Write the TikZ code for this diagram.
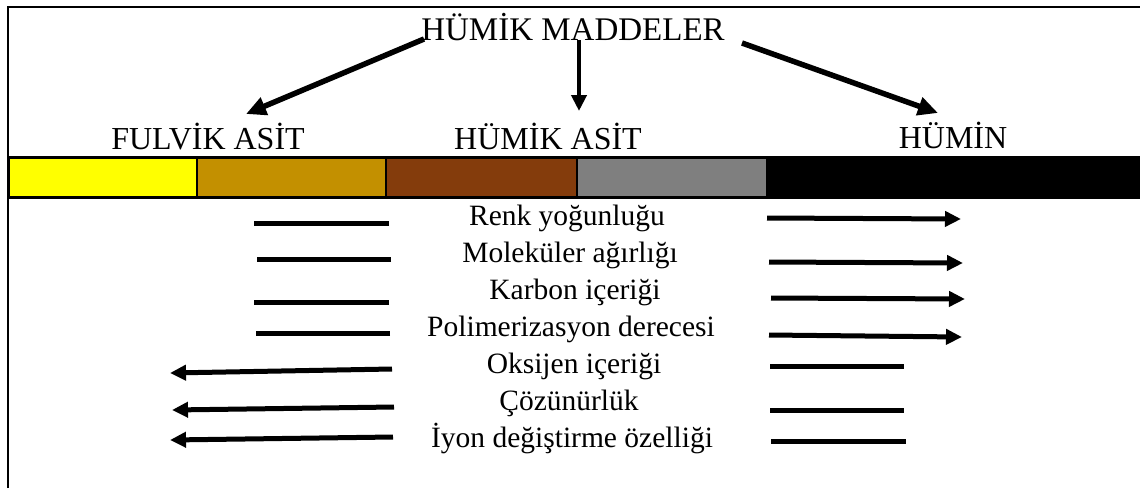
\documentclass[tikz,border=0pt]{standalone}
\usepackage{fontspec}
\setmainfont{Liberation Serif}
\usetikzlibrary{arrows.meta}
\definecolor{yellowbar}{HTML}{FFFF00}
\definecolor{goldbar}{HTML}{C39000}
\definecolor{brownbar}{HTML}{843C0C}
\definecolor{greybar}{HTML}{7F7F7F}
\tikzset{
  frameline/.style={line width=2pt,black},
  seg/.style={draw=black,line width=3pt},
  bigarrow/.style={line width=5.5pt,-{Triangle[length=20pt,width=18pt]}},
  midarrow/.style={line width=4.5pt,-{Triangle[length=16pt,width=15pt]}},
  rowarrow/.style={line width=5pt,-{Triangle[length=16pt,width=15pt]}},
  rowline/.style={line width=5pt},
  head/.style={font=\fontsize{32}{36}\selectfont,anchor=base,inner sep=0pt},
  rowlabel/.style={font=\fontsize{29.5}{32}\selectfont,anchor=base,inner sep=0pt}
}
\begin{document}
\begin{tikzpicture}[x=1pt,y=-1pt]
\useasboundingbox (0,0) rectangle (1140,488);
% frame
\draw[frameline] (8,488) -- (8,7) -- (1140,7);
% colour bar
\fill[yellowbar] (8,157) rectangle (197,197);
\fill[goldbar] (197,157) rectangle (386,197);
\fill[brownbar] (386,157) rectangle (577,197);
\fill[greybar] (577,157) rectangle (766,197);
\fill[black] (766,157) rectangle (1140,197);
\draw[seg] (8,157) rectangle (1142,197);
\draw[line width=2pt] (197,157) -- (197,197) (386,157) -- (386,197) (577,157) -- (577,197);
% headings
\node[head,font=\fontsize{33}{36}\selectfont] (title) at (573,40) {HÜMİK MADDELER};
\node[head] (fulvik) at (208,149) {FULVİK ASİT};
\node[head] (humik) at (548,149) {HÜMİK ASİT};
\node[head] (humin) at (953,148) {HÜMİN};
% top arrows
\coordinate (tl) at (424,39);
\coordinate (tlE) at (246,114);
\coordinate (tm) at (579,40);
\coordinate (tmE) at (579,111);
\coordinate (tr) at (742,43);
\coordinate (trE) at (938,113);
\draw[bigarrow] (tl) -- (tlE);
\draw[midarrow] (tm) -- (tmE);
\draw[bigarrow] (tr) -- (trE);
% row labels
\node[rowlabel] (r1) at (567,225) {Renk yoğunluğu};
\node[rowlabel] (r2) at (570,262) {Moleküler ağırlığı};
\node[rowlabel] (r3) at (575,299) {Karbon içeriği};
\node[rowlabel] (r4) at (571,336) {Polimerizasyon derecesi};
\node[rowlabel] (r5) at (574,373) {Oksijen içeriği};
\node[rowlabel] (r6) at (569,410) {Çözünürlük};
\node[rowlabel] (r7) at (572,447) {İyon değiştirme özelliği};
% left side
\coordinate (l1a) at (389,223); \coordinate (l1b) at (254,223);
\coordinate (l2a) at (391,259); \coordinate (l2b) at (257,259);
\coordinate (l3a) at (389,302); \coordinate (l3b) at (254,302);
\coordinate (l4a) at (390,333); \coordinate (l4b) at (256,333);
\coordinate (l5a) at (392,369); \coordinate (l5b) at (170,373);
\coordinate (l6a) at (394,407); \coordinate (l6b) at (172,410);
\coordinate (l7a) at (393,437); \coordinate (l7b) at (170,440);
\draw[rowline] (l1a) -- (l1b);
\draw[rowline] (l2a) -- (l2b);
\draw[rowline] (l3a) -- (l3b);
\draw[rowline] (l4a) -- (l4b);
\draw[rowarrow] (l5a) -- (l5b);
\draw[rowarrow] (l6a) -- (l6b);
\draw[rowarrow] (l7a) -- (l7b);
% right side
\coordinate (q1a) at (767,218); \coordinate (q1b) at (961,219);
\coordinate (q2a) at (769,262); \coordinate (q2b) at (963,263);
\coordinate (q3a) at (771,298); \coordinate (q3b) at (965,299);
\coordinate (q4a) at (769,335); \coordinate (q4b) at (962,337);
\coordinate (q5a) at (770,366); \coordinate (q5b) at (904,366);
\coordinate (q6a) at (770,410); \coordinate (q6b) at (904,410);
\coordinate (q7a) at (771,441); \coordinate (q7b) at (906,441);
\draw[rowarrow] (q1a) -- (q1b);
\draw[rowarrow] (q2a) -- (q2b);
\draw[rowarrow] (q3a) -- (q3b);
\draw[rowarrow] (q4a) -- (q4b);
\draw[rowline] (q5a) -- (q5b);
\draw[rowline] (q6a) -- (q6b);
\draw[rowline] (q7a) -- (q7b);
\end{tikzpicture}
\end{document}
